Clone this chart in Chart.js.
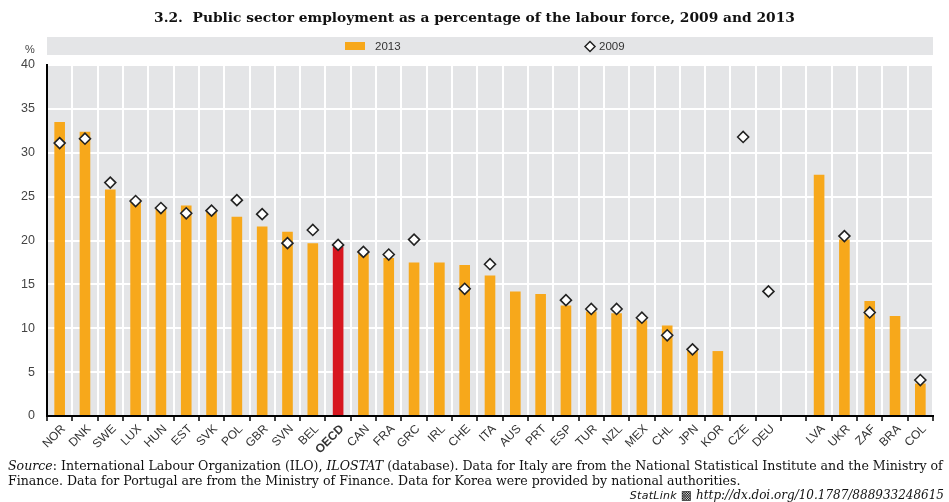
<!DOCTYPE html>
<html>
<head>
<meta charset="utf-8">
<script src="https://cdn.jsdelivr.net/npm/chart.js@4.4.0/dist/chart.umd.min.js"></script>
<style>
  body { margin: 0; background: #fff; }
  #wrap { position: relative; width: 949px; height: 502px; }
  #title { position: absolute; left: 0; width: 949px; top: 9px; text-align: center;
    font: bold 13.8px "DejaVu Serif", serif; color: #111; }
  #pct { position: absolute; left: 25px; top: 43px; font: 11px "Liberation Sans Narrow", "Liberation Sans", sans-serif; color: #444; }
  #note { position: absolute; left: 8px; top: 458px; font: 12px "DejaVu Serif", serif; color: #111; line-height: 15px; white-space: nowrap; }
  #link { position: absolute; right: 5px; top: 488px; font: italic 12px "DejaVu Serif", serif; color: #111; }
  #link b { font: 11px "DejaVu Sans", sans-serif; font-style: italic; font-weight: normal; letter-spacing: 0.3px; }
</style>
</head>
<body>
<div id="wrap">
  <canvas id="chart" width="949" height="502"></canvas>
  <div id="title">3.2.&nbsp; Public sector employment as a percentage of the labour force, 2009 and 2013</div>
  <div id="pct">%</div>
  <div id="note"><i>Source</i>: International Labour Organization (ILO), <i>ILOSTAT</i> (database). Data for Italy are from the National Statistical Institute and the Ministry of<br>Finance. Data for Portugal are from the Ministry of Finance. Data for Korea were provided by national authorities.</div>
  <div id="link"><b>StatLink</b> &#9641; http://dx.doi.org/10.1787/888933248615</div>
</div>
<script>
// Country codes (empty string = gap between OECD and partner countries)
var countries = ["NOR", "DNK", "SWE", "LUX", "HUN", "EST", "SVK", "POL", "GBR", "SVN", "BEL", "OECD",
  "CAN", "FRA", "GRC", "IRL", "CHE", "ITA", "AUS", "PRT", "ESP", "TUR", "NZL", "MEX", "CHL", "JPN",
  "KOR", "CZE", "DEU", "", "LVA", "UKR", "ZAF", "BRA", "COL"];

// 2013 values (bars)
var values2013 = [33.5, 32.4, 25.8, 24.7, 23.6, 24.0, 23.3, 22.7, 21.6, 21.0, 19.7, 19.3,
  18.5, 18.0, 17.5, 17.5, 17.2, 16.0, 14.2, 13.9, 12.6, 11.9, 11.7, 10.9, 10.3, 7.5,
  7.4, null, null, null, 27.5, 20.1, 13.1, 11.4, 3.7];

// 2009 values (diamonds)
var values2009 = [31.1, 31.6, 26.6, 24.5, 23.7, 23.1, 23.4, 24.6, 23.0, 19.7, 21.2, 19.5,
  18.7, 18.4, 20.1, null, 14.5, 17.3, null, null, 13.2, 12.2, 12.2, 11.2, 9.2, 7.6,
  null, 31.8, 14.2, null, null, 20.5, 11.8, null, 4.1];

var yTicks = [0, 5, 10, 15, 20, 25, 30, 35, 40];

var orange = "#f7a81b";
var red = "#d7161f";
var panelGrey = "#e4e5e7";
var narrow = "'Liberation Sans Narrow', 'Arial Narrow', 'Liberation Sans', sans-serif";

var barColors = countries.map(function (c) { return c === "OECD" ? red : orange; });

// stretch footnote to the reference width
function fitWidth(id, w) {
  var el = document.getElementById(id);
  var cur = el.getBoundingClientRect().width;
  var size = parseFloat(getComputedStyle(el).fontSize);
  el.style.fontSize = (size * w / cur) + "px";
}
fitWidth("note", 936);

// grey plot background + legend band
var backdrop = {
  id: "backdrop",
  beforeDraw: function (chart) {
    var ctx = chart.ctx, a = chart.chartArea;
    ctx.save();
    ctx.fillStyle = panelGrey;
    ctx.fillRect(a.left, a.top, a.right - a.left, a.bottom - a.top);
    // legend band
    ctx.fillRect(a.left, 37, a.right - a.left, 18);
    ctx.fillStyle = orange;
    ctx.fillRect(345, 42, 20, 8);
    ctx.fillStyle = "#333";
    ctx.font = "11.5px " + narrow;
    ctx.textBaseline = "middle";
    ctx.fillText(chart.data.datasets[1].label, 375, 46.5);
    ctx.fillText(chart.data.datasets[0].label, 599, 46.5);
    // diamond
    ctx.beginPath();
    ctx.moveTo(590, 41.5); ctx.lineTo(595, 46.5); ctx.lineTo(590, 51.5); ctx.lineTo(585, 46.5); ctx.closePath();
    ctx.fillStyle = "#fff"; ctx.fill();
    ctx.strokeStyle = "#222"; ctx.lineWidth = 1.5; ctx.stroke();
    ctx.restore();
  }
};

var ctx = document.getElementById("chart").getContext("2d");
var chart = new Chart(ctx, {
  type: "bar",
  data: {
    labels: countries,
    datasets: [{
      type: "line",
      label: "2009",
      data: values2009,
      showLine: false,
      pointStyle: "rectRot",
      pointRadius: 5.5,
      pointBackgroundColor: "#fff",
      pointBorderColor: "#222",
      pointBorderWidth: 1.6,
      order: 0
    }, {
      label: "2013",
      data: values2013,
      backgroundColor: barColors,
      barPercentage: 1,
      categoryPercentage: 0.42,
      order: 1
    }]
  },
  options: {
    responsive: false,
    animation: false,
    layout: { padding: { left: 0, right: 16, top: 65, bottom: 0 } },
    plugins: { legend: { display: false }, tooltip: { enabled: false } },
    scales: {
      x: {
        offset: true,
        grid: { offset: true, color: "#fff", lineWidth: 2, tickColor: "#000", tickLength: 5, tickWidth: 1.5 },
        border: { color: "#000", width: 2 },
        ticks: {
          maxRotation: 45, minRotation: 45, autoSkip: false, color: "#333", padding: 1, labelOffset: 4,
          font: function (c) {
            return { family: narrow, size: 12, weight: countries[c.index] === "OECD" ? "bold" : "normal" };
          }
        },
        afterFit: function (s) { s.height = 86; }
      },
      y: {
        min: 0, max: 40,
        afterBuildTicks: function (s) { s.ticks = yTicks.map(function (v) { return { value: v }; }); },
        grid: { color: "#fff", lineWidth: 2, drawTicks: false },
        border: { color: "#000", width: 2 },
        ticks: { color: "#444", padding: 12, font: { family: narrow, size: 12.5 } },
        afterFit: function (s) { s.width = 47; }
      }
    }
  },
  plugins: [backdrop]
});
</script>
</body>
</html>
